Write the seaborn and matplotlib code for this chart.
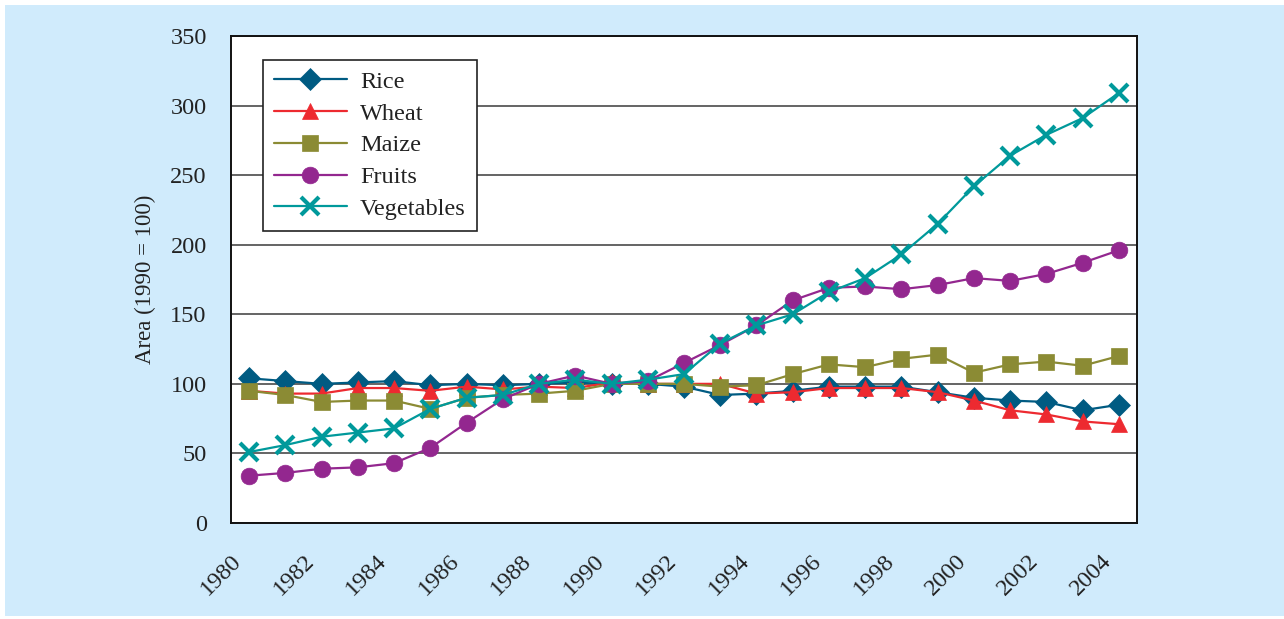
import numpy as np
import pandas as pd
import matplotlib
matplotlib.use("Agg")
import matplotlib.pyplot as plt
from matplotlib.patches import Rectangle
import seaborn as sns

years = list(range(1980, 2005))
rice = [104, 102, 100, 101, 102, 99, 100, 99, 100, 101, 100, 100, 98, 92, 93, 95, 98, 98, 98, 94, 90, 88, 87, 81, 85]
wheat = [95, 93, 93, 97, 97, 95, 98, 96, 98, 97, 101, 100, 100, 100, 93, 94, 97, 97, 97, 94, 88, 81, 78, 73, 71]
maize = [95, 92, 87, 88, 88, 82, 90, 92, 93, 95, 100, 100, 100, 98, 99, 107, 114, 112, 118, 121, 108, 114, 116, 113, 120]
fruits = [34, 36, 39, 40, 43, 54, 72, 89, 100, 106, 100, 102, 115, 128, 142, 160, 169, 170, 168, 171, 176, 174, 179, 187, 196]
vegetables = [51, 56, 62, 65, 68, 82, 90, 92, 100, 103, 100, 103, 107, 129, 142, 150, 166, 176, 193, 215, 242, 264, 279, 291, 309]

series_names = ["Rice", "Wheat", "Maize", "Fruits", "Vegetables"]
series_values = [rice, wheat, maize, fruits, vegetables]
colors = ["#005b82", "#ed2a30", "#8b8b34", "#93278f", "#00999b"]
markers = ["D", "^", "s", "o", "x"]
ylabel = "Area (1990 = 100)"

sns.set_theme(style="white")
plt.rcParams["font.family"] = ["Liberation Serif", "DejaVu Serif"]

fig = plt.figure(figsize=(12.84, 6.19), dpi=100, facecolor="white")
fig.patches.append(Rectangle((5 / 1284, 3 / 619), 1.0, 1 - 8 / 619,
                             transform=fig.transFigure, facecolor="#d0ebfc",
                             edgecolor="none", zorder=-10))
ax = fig.add_axes([231 / 1284, 1 - 523 / 619, 906 / 1284, 487 / 619])
ax.set_facecolor("white")

x = np.array(years) + 0.5
sizes = {"D": 11, "^": 12, "s": 11, "o": 12, "x": 12.5}
for name, vals, c, m in zip(series_names, series_values, colors, markers):
    kws = dict(marker=m, markersize=sizes[m], color=c,
               markerfacecolor=c, markeredgecolor=c, linewidth=1.6,
               markeredgewidth=3.0 if m == "x" else 0.5)
    sns.lineplot(x=x, y=vals, ax=ax, label=name, **kws)

ax.set_xlim(1980, 2005)
ax.set_ylim(0, 350)
ax.set_yticks(range(0, 351, 50))
ax.set_xticks(list(range(1980, 2005, 2)))
ax.set_xticklabels([str(y) for y in range(1980, 2005, 2)], rotation=45,
                   ha="right", rotation_mode="anchor")
ax.set_xticks(list(range(1981, 2006, 2)), minor=True)
ax.tick_params(axis="both", which="both", direction="out", length=11.5,
               width=1.2, color="#222222", labelsize=17.5, labelcolor="#222222")
ax.tick_params(axis="y", pad=6)
ax.tick_params(axis="x", pad=8)
ax.grid(axis="y", color="#3a3a3a", linewidth=1.1)
ax.grid(axis="x", visible=False)
for s in ax.spines.values():
    s.set_color("#111111")
    s.set_linewidth(1.4)
ax.set_xlabel("")
ax.set_ylabel(ylabel, fontsize=16.5, color="#222222", labelpad=10)

leg = ax.legend(loc="upper left", bbox_to_anchor=(0.035, 0.951), borderaxespad=0,
                fontsize=17.5, frameon=True, fancybox=False, edgecolor="#222222",
                framealpha=1, handlelength=3.0, handletextpad=0.55,
                labelspacing=0.4, borderpad=0.45)
leg.get_frame().set_linewidth(1.2)
for t in leg.get_texts():
    t.set_color("#222222")

fig.savefig("out.png", dpi=100, facecolor=fig.get_facecolor())
